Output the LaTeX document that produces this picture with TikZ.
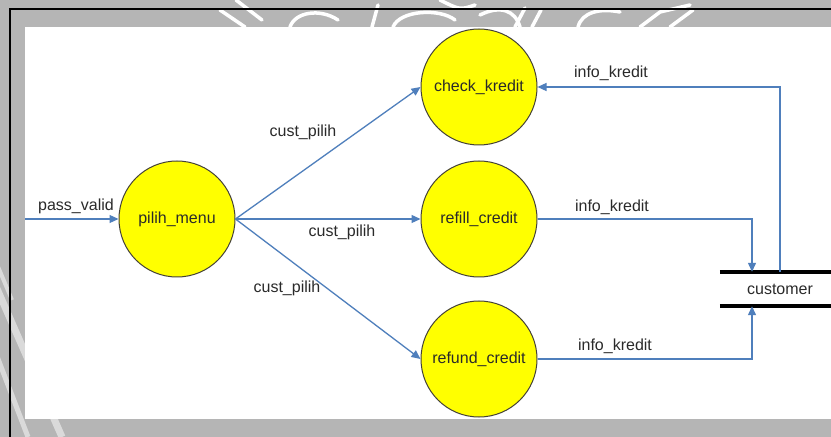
\documentclass[tikz,border=0pt]{standalone}
\usepackage{fontspec}
\setmainfont{Liberation Sans}
\usetikzlibrary{arrows.meta}

\definecolor{panelgray}{HTML}{B5B5B5}
\definecolor{markgray}{HTML}{DADADA}
\definecolor{flowblue}{HTML}{4F7FBC}
\definecolor{bubble}{HTML}{FFFF00}
\definecolor{inkgray}{HTML}{2A2A2A}

\begin{document}
\begin{tikzpicture}[x=1bp,y=-1bp,
  labelfont/.style={font=\fontsize{16bp}{19bp}\selectfont, text=inkgray},
  process/.style={circle, draw=black!85!yellow, line width=1bp, fill=bubble,
    minimum size=116bp, inner sep=0pt, labelfont},
  flow/.style={draw=flowblue, line width=1.3bp, -{Triangle[length=9bp,width=8bp]}},
  flowlabel/.style={labelfont, inner sep=0pt},
  store/.style={minimum width=120bp, minimum height=34bp, inner sep=0pt, labelfont},
  storeline/.style={line width=3.5bp, black},
  emblem/.style={white, line width=3.5bp, line cap=round}]

\useasboundingbox (0,0) rectangle (831,437);

% page background with faint diagonal bands
\fill[panelgray] (0,0) rectangle (831,437);
\begin{scope}
  \clip (0,0) rectangle (831,437);
  \draw[markgray, line width=7bp] (-20,250) -- (62,437);
  \draw[markgray, line width=5bp] (-40,260) -- (28,437);
  \draw[markgray, line width=4bp] (-30,200) -- (12,300);
\end{scope}

% emblem strokes along the top margin
\begin{scope}
  \clip (0,0) rectangle (831,27);
  \draw[emblem] (220,10) -- (245,27);
  \draw[emblem] (236,0) -- (262,20);
  \draw[emblem] (290,27) .. controls (295,12) and (320,8) .. (338,20);
  \draw[emblem] (372,27) -- (378,5);
  \draw[emblem] (393,27) .. controls (400,10) and (440,8) .. (455,20);
  \draw[emblem] (440,0) .. controls (460,10) .. (475,5);
  \draw[emblem] (480,15) .. controls (500,5) and (515,10) .. (520,27);
  \draw[emblem] (515,27) -- (525,8);
  \draw[emblem] (532,27) -- (541,10);
  \draw[emblem] (578,27) .. controls (582,12) and (600,8) .. (620,12);
  \draw[emblem] (640,27) -- (660,12) -- (690,5);
  \draw[emblem] (670,27) -- (693,10);
\end{scope}

% white drawing panel and frame
\fill[white] (25,27) rectangle (831,419);
\draw[black, line width=2.5bp] (10,437) -- (10,9) -- (831,9);

% processes
\node[process] (pilih)  at (177,219) {pilih\_menu};
\node[process] (check)  at (479,87)  {check\_kredit};
\node[process] (refill) at (479,219) {refill\_credit};
\node[process] (refund) at (479,359) {refund\_credit};

% data store
\node[store] (customer) at (780,289) {customer};
\draw[storeline] (customer.north west) -- (customer.north east);
\draw[storeline] (customer.south west) -- (customer.south east);

% incoming flow
\coordinate (entry) at (25,219);
\draw[flow] (entry) -- (pilih);
\node[flowlabel] (lpass) at (76,206) {pass\_valid};

% menu choices
\draw[flow] (pilih.east) -- (check.west);
\draw[flow] (pilih.east) -- (refill.west);
\draw[flow] (pilih.east) -- (refund.west);
\node[flowlabel] (lc1) at (303,132) {cust\_pilih};
\node[flowlabel] (lc2) at (342,232) {cust\_pilih};
\node[flowlabel] (lc3) at (287,288) {cust\_pilih};

% credit information flows
\draw[flow] (customer.north) |- (check.east);
\draw[flow] (refill.east) -| ([xshift=-28bp]customer.north);
\draw[flow] (refund.east) -| ([xshift=-28bp]customer.south);
\node[flowlabel] (li1) at (611,73)  {info\_kredit};
\node[flowlabel] (li2) at (612,207) {info\_kredit};
\node[flowlabel] (li3) at (615,346) {info\_kredit};

\end{tikzpicture}
\end{document}
